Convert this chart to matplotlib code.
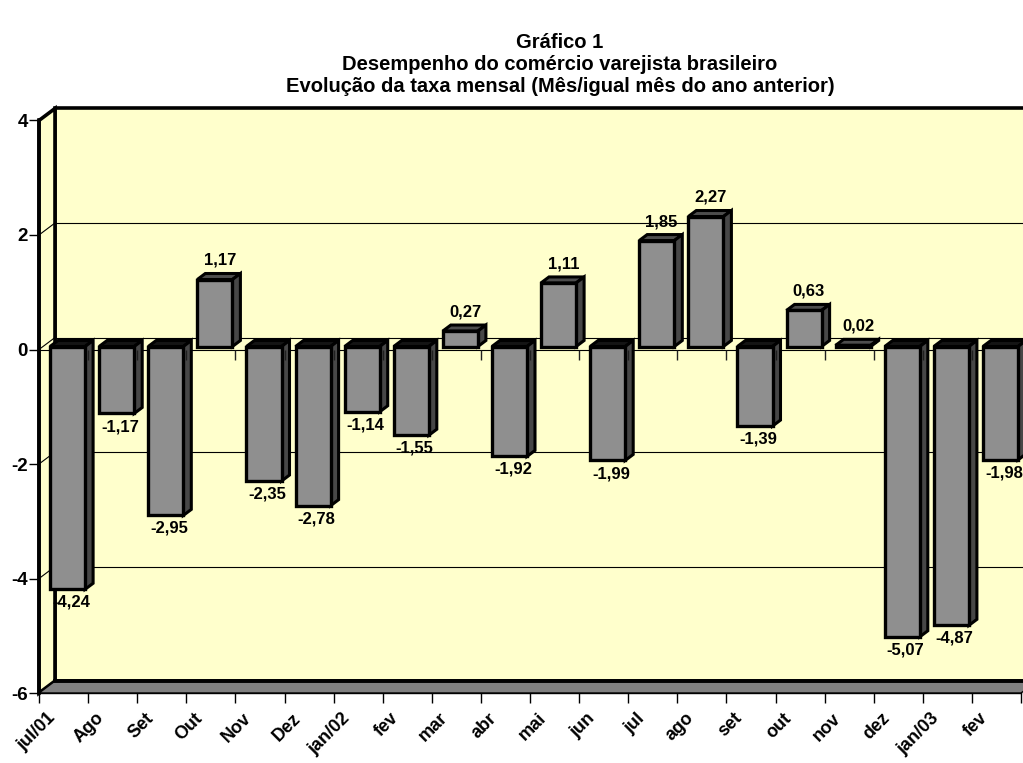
import matplotlib
matplotlib.use("Agg")
import matplotlib.pyplot as plt
from matplotlib.patches import Polygon
from matplotlib.transforms import ScaledTranslation
import numpy as np

plt.rcParams['font.family'] = ['Liberation Sans', 'DejaVu Sans']
plt.rcParams['font.weight'] = 'bold'

# ---- data ----
categories = ["jul/01", "Ago", "Set", "Out", "Nov", "Dez", "jan/02", "fev", "mar", "abr",
              "mai", "jun", "jul", "ago", "set", "out", "nov", "dez", "jan/03", "fev"]
values = [-4.24, -1.17, -2.95, 1.17, -2.35, -2.78, -1.14, -1.55, 0.27, -1.92,
          1.11, -1.99, 1.85, 2.27, -1.39, 0.63, 0.02, -5.07, -4.87, -1.98]
yticks = [-6, -4, -2, 0, 2, 4]
title_lines = ["Gráfico 1",
               "Desempenho do comércio varejista brasileiro",
               "Evolução da taxa mensal (Mês/igual mês do ano anterior)"]

# ---- styling / geometry ----
W, H = 1023, 763
PX_X = 49.1      # pixels per category
PX_Y = 57.26     # pixels per unit
X0_PX = 39.0
Y0_PX = 349.5
WALL = "#FFFFCC"
FRONT = "#8F8F8F"
SIDE = "#474747"
TOP_POS = "#4D4D4D"
TOP_NEG = "#141414"
FLOOR = "#808080"

DX = 16 / PX_X
DY = 12 / PX_Y
ymin, ymax = -6, 4
n = len(values)

fig = plt.figure(figsize=(W / 100, H / 100), dpi=100)
ax = fig.add_axes([0, 0, 1, 1])
ax.set_xlim(-X0_PX / PX_X, (W - X0_PX) / PX_X)
ax.set_ylim((Y0_PX - H) / PX_Y, Y0_PX / PX_Y)
ax.patch.set_alpha(0)

# back wall
back = Polygon([(DX, ymin + DY), (n + DX + 1, ymin + DY), (n + DX + 1, ymax + DY), (DX, ymax + DY)],
               closed=True, facecolor=WALL, edgecolor='black', lw=2.6, zorder=1)
ax.add_patch(back)
# side wall
side = Polygon([(0, ymin), (0, ymax), (DX, ymax + DY), (DX, ymin + DY)],
               closed=True, facecolor=WALL, edgecolor='black', lw=2.6, zorder=1.5)
ax.add_patch(side)
# gridlines
for t in yticks[1:-1]:
    ax.plot([DX, n + DX + 1], [t + DY, t + DY], color='black', lw=0.8, zorder=2)
    ax.plot([0, DX], [t, t + DY], color='black', lw=0.8, zorder=2)
# floor
floor = Polygon([(0, ymin), (n, ymin), (n + DX, ymin + DY), (DX, ymin + DY)],
                closed=True, facecolor=FLOOR, edgecolor='black', lw=1.0, zorder=2)
ax.add_patch(floor)
ax.plot([DX, n + DX + 1], [ymin + DY, ymin + DY], color='black', lw=2.8, zorder=2.1)

# front zero line and zero-level ticks
ax.plot([0, n], [0, 0], color='black', lw=0.8, zorder=2.2)
ax.vlines(np.arange(1, n), -10 / PX_Y, 0, color='#202020', lw=1.0, zorder=6)

# bars
g = 7 / PX_X
w = 1 - 2 * g
bx, by = 0.25 * DX, 0.25 * DY
hx, hy = 0.5 * DX, 0.5 * DY
xs = np.arange(n)
ax.bar(xs + g + bx, values, width=w, bottom=by, align='edge', color=FRONT,
       edgecolor='black', linewidth=2.4, zorder=4)
for i, v in enumerate(values):
    x0 = i + g + bx
    lo = min(v, 0) + by
    hi = max(v, 0) + by
    topc = TOP_POS if v > 0 else TOP_NEG
    ax.add_patch(Polygon([(x0, hi), (x0 + w, hi), (x0 + w + hx, hi + hy), (x0 + hx, hi + hy)],
                         closed=True, facecolor=topc, edgecolor='black', lw=2.2, zorder=3.5))
    ax.add_patch(Polygon([(x0 + w, lo), (x0 + w, hi), (x0 + w + hx, hi + hy), (x0 + w + hx, lo + hy)],
                         closed=True, facecolor=SIDE, edgecolor='black', lw=2.2, zorder=3.5))
    lab = f"{v:.2f}".replace('.', ',')
    if v >= 0:
        ax.annotate(lab, (i + 0.5 + 0.18, hi + hy), xytext=(0, 4), textcoords='offset points',
                    ha='center', va='bottom', fontsize=12, fontweight='bold', zorder=7)
    else:
        ax.annotate(lab, (i + 0.5 + 0.15, lo), xytext=(0, -4), textcoords='offset points',
                    ha='center', va='top', fontsize=12, fontweight='bold', zorder=7)

# axes spines / ticks
for s in ['top', 'right']:
    ax.spines[s].set_visible(False)
ax.spines['left'].set_position(('data', 0))
ax.spines['left'].set_bounds(ymin, ymax)
ax.spines['left'].set_linewidth(2.6)
ax.spines['left'].set_zorder(5)
ax.spines['bottom'].set_position(('data', ymin))
ax.spines['bottom'].set_bounds(0, n)
ax.spines['bottom'].set_linewidth(1.0)
ax.set_yticks(yticks)
ax.set_yticklabels([str(t) for t in yticks])
ax.tick_params(axis='y', direction='out', length=7, width=1, labelsize=13.5, pad=1)
ax.set_xticks(np.arange(n + 1))
ax.set_xticklabels([])
ax.set_xticks(xs + 0.5, minor=True)
ax.set_xticklabels(categories, minor=True, rotation=45, ha='right', fontsize=13, fontweight='bold')
ax.tick_params(axis='x', which='major', direction='out', length=7, width=1)
ax.tick_params(axis='x', which='minor', length=0, pad=12)
for lbl in ax.get_xticklabels(minor=True):
    lbl.set_transform(lbl.get_transform() + ScaledTranslation(-5 / 100, 0, fig.dpi_scale_trans))
for lbl in ax.get_yticklabels():
    lbl.set_fontweight('bold')

# title
for k, (line, yc) in enumerate(zip(title_lines, [42, 64, 87])):
    fig.text(560 / W, 1 - yc / H, line, ha='center', va='center', fontsize=14.5, fontweight='bold')

fig.savefig("out.png", dpi=100)
